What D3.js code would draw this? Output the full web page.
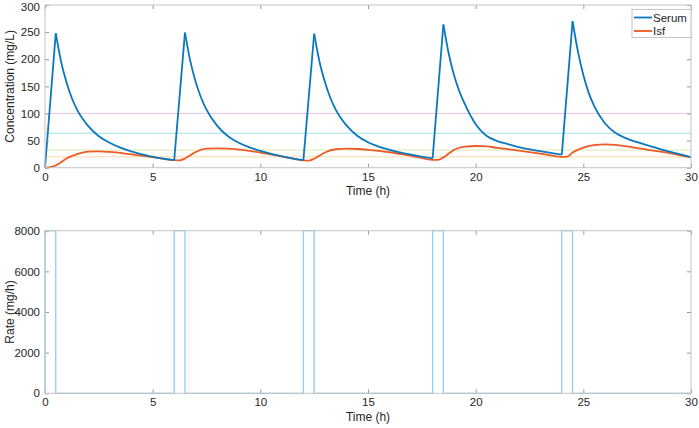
<!DOCTYPE html>
<html>
<head>
<meta charset="utf-8">
<script src="https://cdn.jsdelivr.net/npm/d3@7"></script>
<style>
  html, body { margin: 0; padding: 0; background: #fff; }
  svg { display: block; font-family: "Liberation Sans", Arial, Helvetica, sans-serif; }
</style>
</head>
<body>
<svg id="chart" width="699" height="428"></svg>
<script>
// ---------- data ----------
const doseStarts = [0, 6, 12, 18, 24];
const serumOffsets = [0, 0.5, 0.75, 1, 1.25, 1.5, 2, 2.5, 3, 3.5, 4, 5, 6];
const serumCycle1 = [0, 248, 195, 157, 128, 106, 77, 58, 46, 37, 30, 20, 14];
const serumCycle2 = [14, 249, 196, 158, 129, 107, 77, 58, 46, 37.5, 31, 21, 14];
const serumCycle3 = [14, 247, 195, 158, 129, 107, 78, 59, 47, 39, 33, 24, 17];
const serumCycle4 = [17, 264, 210, 170, 140, 117, 80, 59, 49, 43.5, 38, 30.5, 24];
const serumCycle5 = [24, 270, 214, 171, 138, 114, 82, 64, 54, 47, 41, 29.5, 19.5];

const isfOffsets = [0, 0.25, 0.5, 0.75, 1, 1.5, 2, 2.5, 3, 4, 5, 6];
const isfCycle1 = [0, 1, 4, 10, 17, 25, 29.5, 30, 29, 24.5, 19.5, 14];
const isfCycle2 = [14, 13.5, 17, 23, 29, 35, 35.5, 35, 33.5, 28, 21, 13.5];
const isfCycle3 = [13.5, 13, 16.5, 22.5, 28, 34, 35, 34.5, 33, 28.5, 22, 14.5];
const isfCycle4 = [14.5, 14.5, 19, 26, 33, 39, 40, 39.5, 36.5, 31.5, 26, 20];
const isfCycle5 = [20, 20.5, 28, 33, 37, 41.5, 43, 42, 39.5, 33, 27, 19];

const rateTimes  = [0, 0, 0.5, 6, 6.5, 12, 12.5, 18, 18.5, 24, 24.5, 30];
const rateValues = [0, 8000, 0, 8000, 0, 8000, 0, 8000, 0, 8000, 0, 0];

const refLevels = [100, 63.5, 32.5, 20];
const refColors = ["#e8c6e8", "#a3e0f2", "#d9eab4", "#fbd8a8"];

const xTicks = [0, 5, 10, 15, 20, 25, 30];
const concTicks = [0, 50, 100, 150, 200, 250, 300];
const rateTicks = [0, 2000, 4000, 6000, 8000];
const legendLabels = ["Serum", "Isf"];

// ---------- layout ----------
const svg = d3.select("#chart");
const L = 45, R = 691;
const top1 = 5, bot1 = 167.7;
const top2 = 230.7, bot2 = 393.3;
const BLUE = "#0a78be", ORANGE = "#f05a24", RATE = "#8dcfec";
const BOX = "#c4c4c4", TICK = "#9a9a9a", TXT = "#262626";
const FS = 11.5;

const x = d3.scaleLinear().domain([0, 30]).range([L, R]);
const yC = d3.scaleLinear().domain([0, 300]).range([bot1, top1]);
const yR = d3.scaleLinear().domain([0, 8000]).range([bot2, top2]);

function drawFrame(y, yTicks, top, bot) {
  const g = svg.append("g");
  const fmt = d3.format("d");
  g.append("g").attr("transform", `translate(0,${bot})`)
    .call(d3.axisBottom(x).tickValues(xTicks).tickFormat(fmt).tickSizeInner(-4).tickSizeOuter(0).tickPadding(5));
  g.append("g").attr("transform", `translate(0,${top})`)
    .call(d3.axisTop(x).tickValues(xTicks).tickSizeInner(-4).tickSizeOuter(0).tickFormat(""));
  g.append("g").attr("class", "yleft").attr("transform", `translate(${L},0)`)
    .call(d3.axisLeft(y).tickValues(yTicks).tickFormat(fmt).tickSizeInner(-4).tickSizeOuter(0).tickPadding(5));
  g.append("g").attr("transform", `translate(${R},0)`)
    .call(d3.axisRight(y).tickValues(yTicks).tickSizeInner(-4).tickSizeOuter(0).tickFormat(""));
  g.selectAll(".domain").remove();
  g.selectAll(".tick line").attr("stroke", TICK);
  g.selectAll(".tick text").attr("font-size", FS).attr("fill", TXT)
    .attr("font-family", "'Liberation Sans', Arial, Helvetica, sans-serif");
  return g;
}

// ---------- top panel ----------
svg.append("g").selectAll("line").data(refLevels).join("line")
  .attr("x1", L).attr("x2", R)
  .attr("y1", d => yC(d)).attr("y2", d => yC(d))
  .attr("stroke", (d, i) => refColors[i]).attr("stroke-width", 1);

const serumCycles = [serumCycle1, serumCycle2, serumCycle3, serumCycle4, serumCycle5];
const isfCycles = [isfCycle1, isfCycle2, isfCycle3, isfCycle4, isfCycle5];

const linLine = d3.line().x(d => x(d[0])).y(d => yC(d[1]));
const smoothLine = d3.line().x(d => x(d[0])).y(d => yC(d[1])).curve(d3.curveMonotoneX);

const isfPts = [];
isfCycles.forEach((vals, c) => {
  vals.forEach((v, j) => {
    if (c < isfCycles.length - 1 && j === vals.length - 1) return;
    isfPts.push([doseStarts[c] + isfOffsets[j], v]);
  });
});
svg.append("path").datum(isfPts).attr("d", smoothLine)
  .attr("fill", "none").attr("stroke", ORANGE).attr("stroke-width", 1.8);

const serumG = svg.append("g");
serumCycles.forEach((vals, c) => {
  const pts = vals.map((v, j) => [doseStarts[c] + serumOffsets[j], v]);
  serumG.append("path").datum(pts.slice(0, 2)).attr("d", linLine)
    .attr("fill", "none").attr("stroke", BLUE).attr("stroke-width", 1.8).attr("stroke-linejoin", "round");
  serumG.append("path").datum(pts.slice(1)).attr("d", smoothLine)
    .attr("fill", "none").attr("stroke", BLUE).attr("stroke-width", 1.8).attr("stroke-linejoin", "round");
});

const f1 = drawFrame(yC, concTicks, top1, bot1);
// keep the top label "300" inside the picture
f1.select(".yleft").selectAll(".tick text").filter(d => d === 300).attr("dy", "0.45em");
svg.append("rect").attr("x", L).attr("y", top1).attr("width", R - L).attr("height", bot1 - top1)
  .attr("fill", "none").attr("stroke", BOX).attr("stroke-width", 1);

svg.append("text").attr("x", (L + R) / 2).attr("y", 195).attr("text-anchor", "middle")
  .attr("font-size", 12).attr("fill", TXT).text("Time (h)");
svg.append("text").attr("transform", `translate(14,${(top1 + bot1) / 2}) rotate(-90)`)
  .attr("text-anchor", "middle").attr("font-size", 12).attr("fill", TXT).text("Concentration (mg/L)");

// legend
const lg = svg.append("g");
lg.append("rect").attr("x", 632).attr("y", 9.5).attr("width", 59).attr("height", 28)
  .attr("fill", "#fff").attr("stroke", BOX).attr("stroke-width", 1);
legendLabels.forEach((lab, i) => {
  const cy = 17.5 + i * 13.5;
  lg.append("line").attr("x1", 634).attr("x2", 652).attr("y1", cy).attr("y2", cy)
    .attr("stroke", i === 0 ? BLUE : ORANGE).attr("stroke-width", 1.8);
  lg.append("text").attr("x", 653).attr("y", cy + 4.2).attr("font-size", FS).attr("fill", TXT).text(lab);
});

// ---------- bottom panel ----------
const ratePts = rateTimes.map((t, i) => [t, rateValues[i]]);
drawFrame(yR, rateTicks, top2, bot2);
svg.append("path").datum(ratePts)
  .attr("d", d3.line().x(d => x(d[0])).y(d => yR(d[1])).curve(d3.curveStepAfter))
  .attr("fill", "none").attr("stroke", RATE).attr("stroke-width", 1.3);
svg.append("rect").attr("x", L).attr("y", top2).attr("width", R - L).attr("height", bot2 - top2)
  .attr("fill", "none").attr("stroke", BOX).attr("stroke-width", 1);

svg.append("text").attr("x", (L + R) / 2).attr("y", 421).attr("text-anchor", "middle")
  .attr("font-size", 12).attr("fill", TXT).text("Time (h)");
svg.append("text").attr("transform", `translate(14,${(top2 + bot2) / 2}) rotate(-90)`)
  .attr("text-anchor", "middle").attr("font-size", 12).attr("fill", TXT).text("Rate (mg/h)");
</script>
</body>
</html>
